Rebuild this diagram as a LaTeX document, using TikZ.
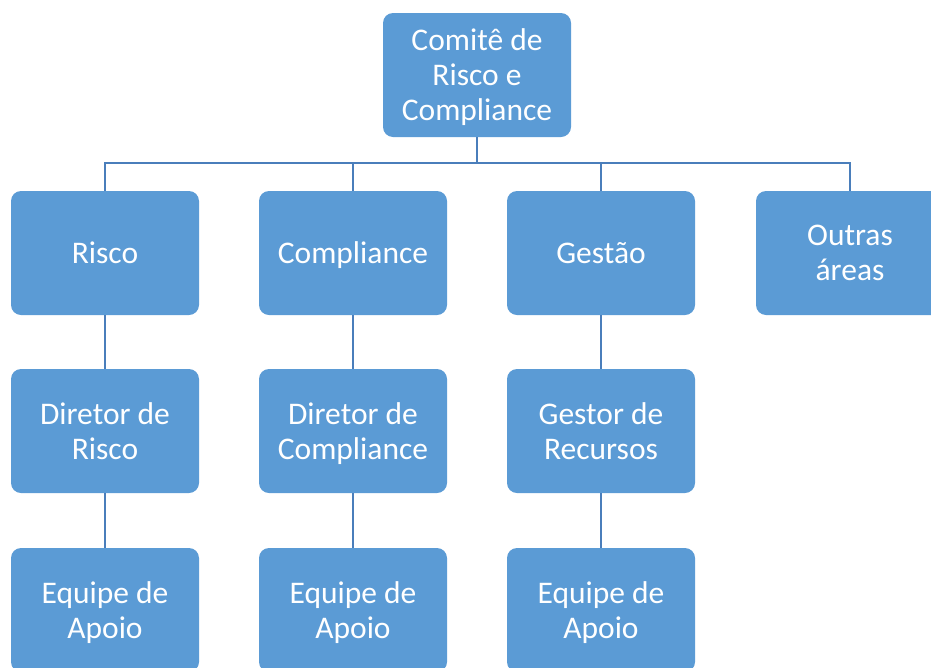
\documentclass[tikz,border=0pt]{standalone}
\usepackage{fontspec}
\setmainfont{Carlito}
\usepackage{tikz}
\usetikzlibrary{positioning}
\definecolor{boxblue}{HTML}{5B9BD5}
\definecolor{lineblue}{HTML}{4A7EBB}

\begin{document}
\begin{tikzpicture}[x=1pt,y=-1pt,
  box/.style={draw=none,fill=boxblue,rounded corners=10pt,minimum width=188pt,
    minimum height=124pt,inner sep=0pt,text=white,align=center,text depth=0pt,
    font=\fontsize{31.5}{35}\selectfont},
  link/.style={draw=lineblue,line width=2pt}]
\useasboundingbox (0,0) rectangle (931,667);
\node[box] (comite) at (477,75) {Comitê de\\Risco e\\Compliance};
\node[box] (risco) at (105,253) {Risco};
\node[box] (compl) at (353,253) {Compliance};
\node[box] (gestao) at (601,253) {Gestão};
\node[box] (outras) at (850,253) {Outras\\áreas};
\node[box] (dirrisco) at (105,431) {Diretor de\\Risco};
\node[box] (dircompl) at (353,431) {Diretor de\\Compliance};
\node[box] (gestor) at (601,431) {Gestor de\\Recursos};
\node[box] (apoio1) at (105,610) {Equipe de\\Apoio};
\node[box] (apoio2) at (353,610) {Equipe de\\Apoio};
\node[box] (apoio3) at (601,610) {Equipe de\\Apoio};
\coordinate (bus) at (477,163);
\draw [link] (comite.south) -- (bus) -| (risco.north);
\draw [link] (bus) -| (compl.north);
\draw [link] (bus) -| (gestao.north);
\draw [link] (bus) -| (outras.north);
\draw [link] (risco) -- (dirrisco);
\draw [link] (dirrisco) -- (apoio1);
\draw [link] (compl) -- (dircompl);
\draw [link] (dircompl) -- (apoio2);
\draw [link] (gestao) -- (gestor);
\draw [link] (gestor) -- (apoio3);
\end{tikzpicture}
\end{document}
